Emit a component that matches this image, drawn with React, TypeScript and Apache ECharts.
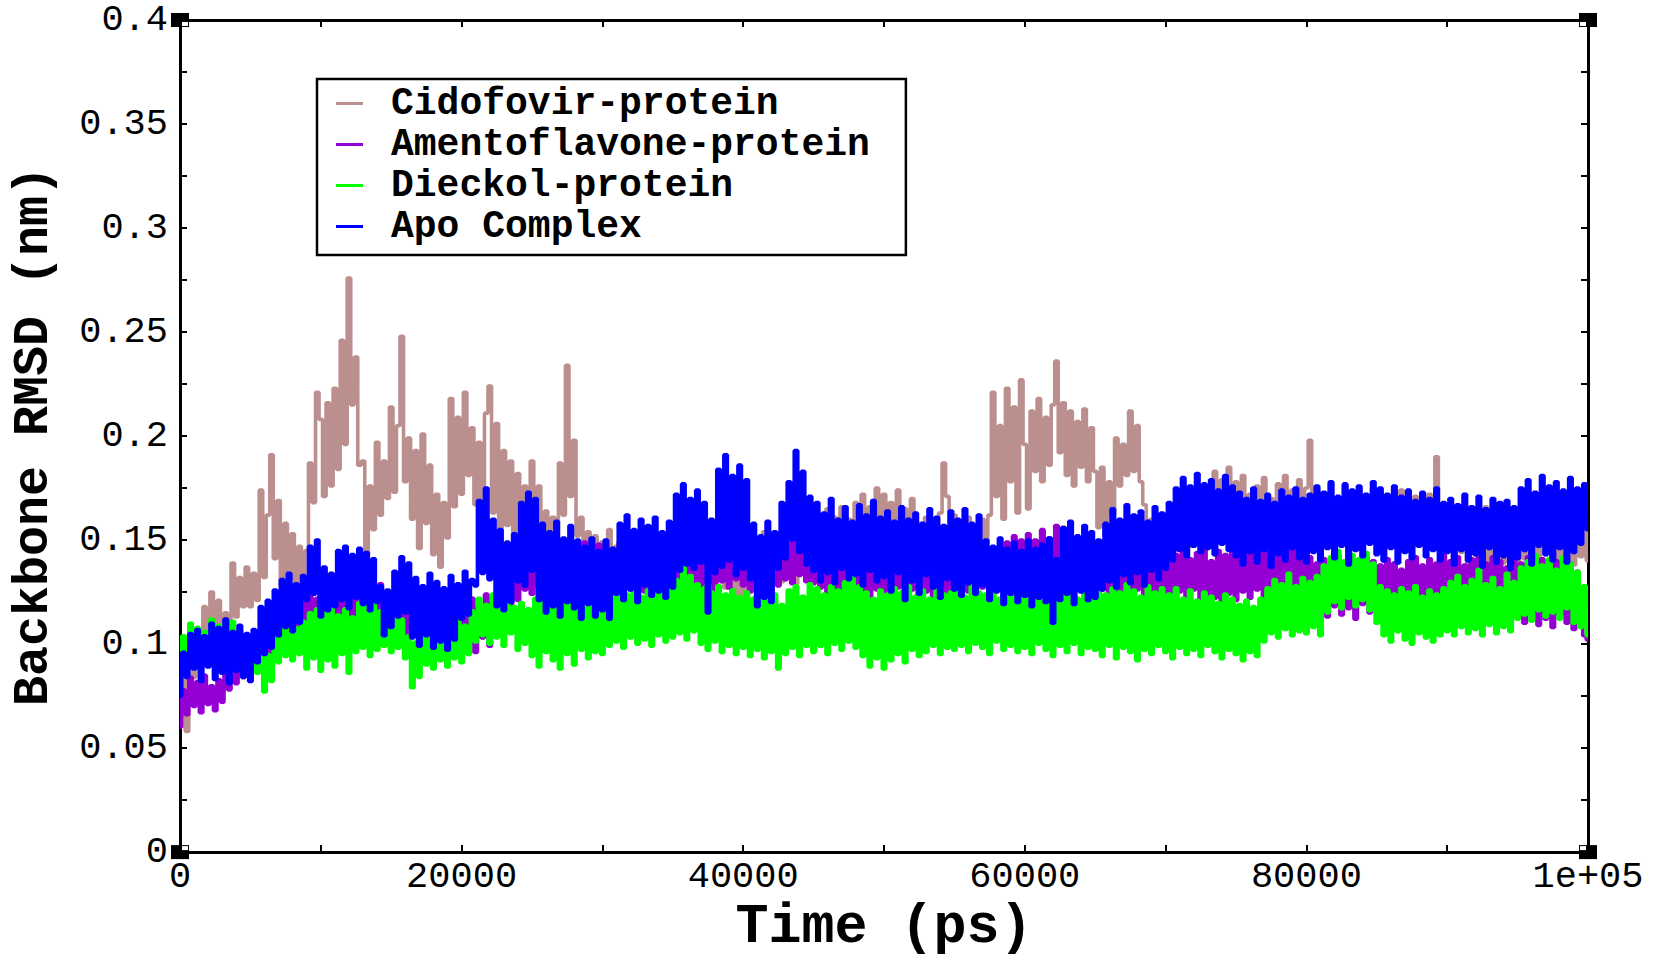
import React, { useEffect, useRef } from 'react';
import * as echarts from 'echarts';

// Time step between samples (ps)
const STEP_PS = 250;

const SERIES_NAMES = ['Cidofovir-protein', 'Amentoflavone-protein', 'Dieckol-protein', 'Apo Complex'];
const SERIES_COLORS = ['#bc8f8f', '#9400d3', '#00ff00', '#0000ff'];

// Backbone RMSD values in milli-nm (1e-3 nm), one every 250 ps from 0 to 100000 ps
const cidofovir = [
  65, 88, 58, 92, 84, 105, 96, 118, 102, 125, 104, 121, 98, 115, 106, 139, 113, 132, 118, 137,
  118, 134, 121, 174, 132, 162, 191, 141, 169, 128, 158, 131, 153, 129, 147, 133, 145, 187, 168, 221,
  208, 171, 216, 176, 223, 184, 246, 196, 276, 215, 238, 186, 188, 143, 176, 155, 197, 162, 188, 170,
  214, 173, 205, 248, 178, 199, 160, 193, 146, 201, 158, 186, 143, 172, 137, 168, 151, 218, 166, 209,
  172, 221, 181, 204, 167, 197, 154, 211, 224, 163, 206, 148, 193, 157, 188, 144, 182, 151, 176, 146,
  188, 152, 176, 149, 164, 147, 161, 150, 187, 162, 234, 171, 198, 152, 161, 141, 154, 138, 152, 136,
  149, 132, 155, 129, 147, 134, 151, 128, 144, 137, 153, 131, 148, 126, 150, 133, 146, 130, 152, 135,
  156, 134, 149, 131, 158, 137, 152, 130, 147, 136, 155, 129, 150, 133, 146, 127, 153, 124, 148, 122,
  145, 121, 150, 127, 148, 132, 154, 128, 151, 135, 147, 130, 156, 134, 152, 129, 158, 136, 161, 138,
  163, 140, 158, 137, 165, 142, 161, 139, 166, 144, 160, 141, 168, 146, 172, 148, 166, 145, 175, 150,
  172, 152, 168, 149, 174, 153, 165, 150, 170, 147, 158, 145, 161, 148, 157, 146, 163, 187, 171, 150,
  162, 145, 159, 142, 161, 147, 156, 140, 160, 148, 162, 221, 171, 205, 160, 223, 178, 214, 163, 227,
  196, 165, 212, 183, 218, 178, 209, 186, 215, 236, 192, 216, 181, 212, 176, 207, 185, 213, 178, 204,
  183, 156, 185, 152, 178, 162, 199, 176, 196, 181, 212, 183, 205, 178, 167, 149, 160, 144, 158, 146,
  157, 141, 163, 145, 159, 143, 161, 147, 165, 149, 168, 150, 172, 152, 183, 156, 179, 158, 185, 160,
  178, 157, 181, 160, 172, 155, 176, 162, 180, 158, 170, 154, 177, 160, 181, 156, 174, 161, 179, 157,
  175, 198, 166, 175, 158, 172, 160, 177, 155, 169, 161, 176, 157, 171, 159, 174, 153, 168, 162, 175,
  158, 173, 155, 170, 160, 168, 152, 174, 157, 165, 151, 171, 156, 167, 149, 172, 158, 190, 162, 166,
  147, 165, 140, 161, 144, 167, 138, 160, 146, 163, 141, 166, 137, 159, 143, 164, 139, 162, 142, 158,
  136, 163, 141, 160, 134, 165, 139, 158, 143, 162, 135, 157, 140, 164, 133, 160, 138, 156, 142, 161,
  140,
];

const amentoflavone = [
  60, 78, 66, 84, 70, 82, 67, 85, 71, 80, 68, 83, 72, 86, 78, 94, 81, 97, 84, 99,
  86, 101, 88, 104, 92, 108, 96, 112, 99, 116, 102, 121, 104, 118, 107, 124, 103, 126, 108, 122,
  106, 125, 110, 128, 104, 122, 112, 130, 108, 126, 114, 131, 110, 127, 107, 124, 111, 129, 106, 123,
  104, 121, 108, 126, 102, 120, 107, 124, 101, 119, 105, 122, 99, 118, 103, 123, 100, 120, 104, 121,
  97, 119, 101, 122, 96, 118, 103, 124, 99, 121, 104, 126, 108, 129, 112, 133, 121, 138, 126, 141,
  124, 140, 127, 143, 122, 139, 126, 146, 123, 148, 121, 150, 125, 147, 122, 149, 126, 145, 121, 148,
  124, 147, 121, 144, 127, 149, 122, 143, 126, 146, 120, 142, 125, 145, 123, 141, 128, 144, 121, 140,
  122, 139, 126, 142, 121, 138, 127, 143, 124, 140, 129, 143, 126, 141, 130, 144, 127, 139, 131, 142,
  128, 141, 125, 139, 129, 143, 126, 140, 130, 147, 128, 151, 131, 149, 129, 152, 133, 148, 130, 150,
  129, 147, 127, 144, 123, 142, 126, 146, 122, 141, 125, 145, 121, 143, 124, 140, 122, 146, 126, 142,
  125, 143, 122, 140, 127, 145, 124, 139, 126, 142, 121, 141, 125, 144, 123, 138, 127, 143, 124, 140,
  126, 141, 123, 139, 125, 144, 122, 140, 127, 142, 124, 145, 128, 147, 130, 149, 133, 152, 131, 150,
  134, 153, 130, 150, 136, 155, 132, 151, 137, 157, 133, 156, 135, 152, 129, 146, 127, 143, 125, 141,
  124, 140, 126, 142, 122, 139, 125, 141, 121, 138, 124, 143, 126, 141, 122, 145, 125, 142, 121, 144,
  123, 146, 120, 143, 125, 147, 122, 141, 126, 144, 121, 146, 124, 140, 122, 145, 120, 143, 124, 148,
  121, 146, 125, 150, 122, 144, 126, 151, 123, 147, 120, 149, 124, 145, 121, 148, 125, 150, 122, 146,
  119, 142, 115, 139, 120, 141, 113, 138, 118, 143, 114, 140, 117, 137, 112, 139, 119, 142, 115, 140,
  116, 138, 113, 141, 118, 139, 112, 136, 117, 140, 114, 142, 119, 138, 115, 141, 113, 139, 117, 143,
  114, 140, 111, 142, 116, 138, 110, 141, 115, 143, 112, 139, 117, 142, 109, 140, 114, 137, 111, 141,
  113, 139, 110, 142, 115, 138, 109, 141, 112, 136, 108, 140, 114, 137, 110, 139, 107, 135, 111, 104,
  102,
];

const dieckol = [
  90, 104, 93, 110, 97, 108, 92, 106, 99, 112, 95, 109, 91, 105, 97, 111, 93, 107, 96, 103,
  89, 101, 86, 98, 77, 95, 82, 104, 91, 110, 94, 112, 92, 108, 95, 111, 88, 115, 93, 117,
  87, 116, 92, 118, 89, 114, 95, 117, 86, 113, 96, 120, 98, 119, 94, 121, 97, 116, 99, 118,
  96, 114, 98, 112, 93, 104, 79, 101, 84, 103, 90, 110, 88, 108, 92, 112, 89, 107, 93, 111,
  91, 109, 95, 116, 101, 122, 104, 119, 100, 124, 103, 121, 99, 123, 105, 118, 97, 120, 100, 117,
  94, 122, 89, 125, 96, 120, 92, 127, 88, 121, 95, 124, 90, 119, 97, 126, 93, 121, 96, 123,
  95, 122, 99, 125, 101, 128, 98, 124, 103, 127, 100, 123, 102, 126, 99, 129, 104, 125, 101, 128,
  103, 131, 105, 137, 102, 133, 106, 129, 100, 127, 97, 125, 101, 128, 96, 124, 99, 126, 95, 123,
  98, 125, 94, 122, 97, 127, 93, 121, 96, 124, 88, 119, 95, 126, 98, 128, 94, 123, 99, 129,
  96, 127, 99, 124, 95, 128, 100, 126, 97, 130, 101, 139, 98, 128, 94, 125, 89, 122, 93, 126,
  88, 124, 92, 127, 95, 125, 91, 128, 97, 123, 94, 126, 96, 122, 99, 127, 95, 124, 98, 125,
  97, 126, 99, 123, 96, 128, 100, 125, 98, 124, 95, 127, 101, 122, 97, 126, 99, 124, 96, 128,
  98, 125, 95, 127, 100, 123, 97, 126, 94, 128, 99, 124, 96, 127, 100, 122, 95, 125, 98, 126,
  97, 128, 94, 124, 99, 127, 93, 125, 98, 129, 96, 126, 92, 123, 97, 128, 95, 125, 99, 127,
  96, 124, 93, 127, 98, 122, 95, 126, 97, 121, 94, 125, 99, 123, 96, 120, 93, 124, 97, 122,
  95, 119, 92, 121, 96, 118, 94, 122, 101, 127, 105, 131, 103, 129, 107, 134, 104, 128, 106, 132,
  105, 130, 108, 133, 104, 138, 115, 142, 120, 145, 117, 140, 122, 143, 118, 141, 121, 144, 116, 139,
  110, 128, 104, 126, 101, 124, 106, 127, 102, 125, 100, 128, 105, 123, 103, 126, 101, 124, 104, 127,
  106, 130, 104, 133, 108, 128, 105, 131, 107, 136, 104, 129, 109, 132, 105, 127, 108, 134, 106, 130,
  112, 137, 114, 140, 111, 143, 116, 138, 113, 141, 115, 136, 112, 142, 117, 139, 110, 135, 108, 128,
  104,
];

const apoComplex = [
  75, 96, 84, 105, 88, 107, 82, 104, 89, 110, 83, 108, 86, 112, 81, 106, 87, 109, 84, 105,
  82, 107, 91, 118, 95, 121, 98, 126, 104, 131, 108, 134, 106, 129, 110, 133, 121, 147, 124, 150,
  113, 137, 116, 134, 118, 145, 121, 147, 117, 143, 122, 146, 119, 144, 116, 141, 120, 128, 104, 126,
  108, 135, 113, 142, 115, 139, 103, 132, 99, 128, 104, 134, 98, 130, 101, 127, 97, 133, 102, 129,
  112, 135, 114, 131, 128, 169, 134, 175, 131, 160, 118, 155, 116, 149, 120, 153, 130, 168, 128, 173,
  135, 170, 121, 158, 115, 154, 118, 159, 113, 151, 120, 157, 117, 150, 112, 147, 119, 151, 113, 145,
  116, 150, 112, 146, 124, 158, 121, 162, 126, 155, 120, 160, 128, 157, 123, 161, 125, 154, 122, 159,
  127, 172, 135, 177, 138, 170, 136, 174, 139, 168, 115, 160, 134, 184, 137, 191, 140, 181, 133, 186,
  136, 179, 131, 158, 118, 152, 122, 159, 120, 154, 136, 168, 141, 178, 150, 193, 144, 183, 138, 171,
  135, 168, 130, 163, 134, 170, 129, 160, 136, 166, 131, 159, 133, 167, 128, 162, 135, 169, 130, 161,
  132, 164, 125, 159, 134, 166, 121, 160, 130, 163, 124, 158, 133, 165, 127, 161, 122, 157, 131, 164,
  126, 160, 123, 165, 129, 158, 124, 162, 128, 150, 121, 147, 125, 151, 119, 146, 124, 149, 120, 145,
  123, 150, 118, 146, 122, 148, 120, 151, 110, 141, 121, 156, 124, 159, 119, 152, 125, 157, 121, 154,
  122, 150, 126, 158, 130, 165, 127, 160, 133, 167, 129, 162, 134, 164, 128, 159, 135, 166, 131, 163,
  136, 168, 140, 175, 145, 180, 142, 176, 147, 182, 144, 177, 146, 179, 143, 174, 148, 181, 145, 176,
  142, 173, 138, 170, 144, 175, 139, 169, 145, 172, 137, 168, 143, 174, 140, 171, 146, 175, 141, 170,
  139, 172, 144, 176, 140, 173, 146, 178, 141, 171, 147, 177, 138, 174, 145, 176, 142, 172, 148, 178,
  143, 175, 140, 172, 146, 176, 139, 171, 144, 174, 141, 169, 147, 173, 142, 170, 145, 175, 140, 168,
  144, 170, 138, 167, 145, 172, 140, 166, 143, 171, 137, 165, 146, 170, 139, 168, 142, 169, 136, 166,
  141, 175, 145, 179, 138, 173, 147, 181, 143, 176, 140, 178, 146, 174, 139, 180, 144, 175, 148, 177,
  155,
];

const SERIES_VALUES = [cidofovir, amentoflavone, dieckol, apoComplex];

const X_MIN = 0;
const X_MAX = 100000;
const X_INTERVAL = 20000;
const Y_MIN = 0;
const Y_MAX = 0.4;
const Y_INTERVAL = 0.05;

const FONT = '"Liberation Mono", "DejaVu Sans Mono", monospace';

function formatX(v: number): string {
  if (v >= 100000) return '1e+05';
  return String(Math.round(v));
}
function formatY(v: number): string {
  return String(Math.round(v * 100) / 100);
}

export default function App() {
  const ref = useRef<HTMLDivElement>(null);

  useEffect(() => {
    document.body.style.margin = '0';
    if (!ref.current) return;
    const chart = echarts.init(ref.current, undefined, { renderer: 'svg' });

    const axisLine = { show: true, onZero: false, lineStyle: { color: '#000', width: 3 } };
    const axisTick = { show: true, inside: true, length: 7, lineStyle: { color: '#000', width: 2 } };
    const minorTick = { show: true, splitNumber: 2, length: 7, lineStyle: { color: '#000', width: 2 } };

    const series = SERIES_NAMES.map((name, k) => ({
      name,
      type: 'line',
      xAxisIndex: 0,
      yAxisIndex: 0,
      data: SERIES_VALUES[k].map((v, i) => [i * STEP_PS, v / 1000]),
      step: 'middle',
      showSymbol: false,
      symbol: 'none',
      color: SERIES_COLORS[k],
      lineStyle: { color: SERIES_COLORS[k], width: 3.6 },
      itemStyle: { color: SERIES_COLORS[k] },
      emphasis: { disabled: true },
      z: 2 + k,
    }));

    chart.setOption({
      animation: false,
      backgroundColor: '#fff',
      grid: { left: 177, right: 66, top: 20, bottom: 98, containLabel: false },
      legend: {
        orient: 'vertical',
        left: 317,
        top: 79,
        data: SERIES_NAMES,
        icon: 'rect',
        itemWidth: 27,
        itemHeight: 3,
        itemGap: 0,
        selectedMode: false,
        borderColor: '#000',
        borderWidth: 2.5,
        padding: [4, 36, 8, 19],
        textStyle: {
          fontFamily: FONT,
          fontSize: 38,
          fontWeight: 'bold',
          color: '#000',
          lineHeight: 41,
          padding: [0, 0, 0, 23],
        },
      },
      xAxis: [
        {
          type: 'value',
          position: 'bottom',
          min: X_MIN,
          max: X_MAX,
          interval: X_INTERVAL,
          name: 'Time (ps)',
          nameLocation: 'middle',
          nameGap: 36,
          nameTextStyle: { fontFamily: FONT, fontSize: 55, fontWeight: 'bold', color: '#000' },
          axisLine,
          axisTick,
          minorTick,
          splitLine: { show: false },
          axisLabel: {
            fontFamily: FONT,
            fontSize: 37,
            color: '#000',
            margin: 6,
            formatter: formatX,
          },
        },
        {
          type: 'value',
          position: 'top',
          min: X_MIN,
          max: X_MAX,
          interval: X_INTERVAL,
          axisLine,
          axisTick,
          minorTick,
          splitLine: { show: false },
          axisLabel: { show: false },
        },
      ],
      yAxis: [
        {
          type: 'value',
          position: 'left',
          min: Y_MIN,
          max: Y_MAX,
          interval: Y_INTERVAL,
          name: 'Backbone RMSD (nm)',
          nameLocation: 'middle',
          nameGap: 122,
          nameTextStyle: { fontFamily: FONT, fontSize: 50, fontWeight: 'bold', color: '#000' },
          axisLine,
          axisTick,
          minorTick,
          splitLine: { show: false },
          axisLabel: {
            fontFamily: FONT,
            fontSize: 37,
            color: '#000',
            margin: 12,
            formatter: formatY,
          },
        },
        {
          type: 'value',
          position: 'right',
          min: Y_MIN,
          max: Y_MAX,
          interval: Y_INTERVAL,
          axisLine,
          axisTick,
          minorTick,
          splitLine: { show: false },
          axisLabel: { show: false },
        },
      ],
      series,
    });

    // small square markers at the four frame corners (white notch on the plot side)
    const corners = [
      { c: [X_MIN, Y_MIN], dx: 1, dy: -1 },
      { c: [X_MIN, Y_MAX], dx: 1, dy: 1 },
      { c: [X_MAX, Y_MIN], dx: -1, dy: -1 },
      { c: [X_MAX, Y_MAX], dx: -1, dy: 1 },
    ];
    const graphics: any[] = [];
    corners.forEach(({ c, dx, dy }) => {
      const p = chart.convertToPixel({ gridIndex: 0 }, c) as number[];
      graphics.push({
        type: 'rect',
        shape: { x: p[0] - 9, y: p[1] - 7, width: 18, height: 14 },
        style: { fill: '#000' },
        z: 100,
      });
      graphics.push({
        type: 'rect',
        shape: {
          x: dx > 0 ? p[0] + 2 : p[0] - 8,
          y: dy > 0 ? p[1] + 2 : p[1] - 6,
          width: 6,
          height: 4,
        },
        style: { fill: '#fff' },
        z: 101,
      });
    });
    chart.setOption({ graphic: graphics });

    return () => {
      chart.dispose();
    };
  }, []);

  return <div ref={ref} style={{ width: 1654, height: 960 }} />;
}
